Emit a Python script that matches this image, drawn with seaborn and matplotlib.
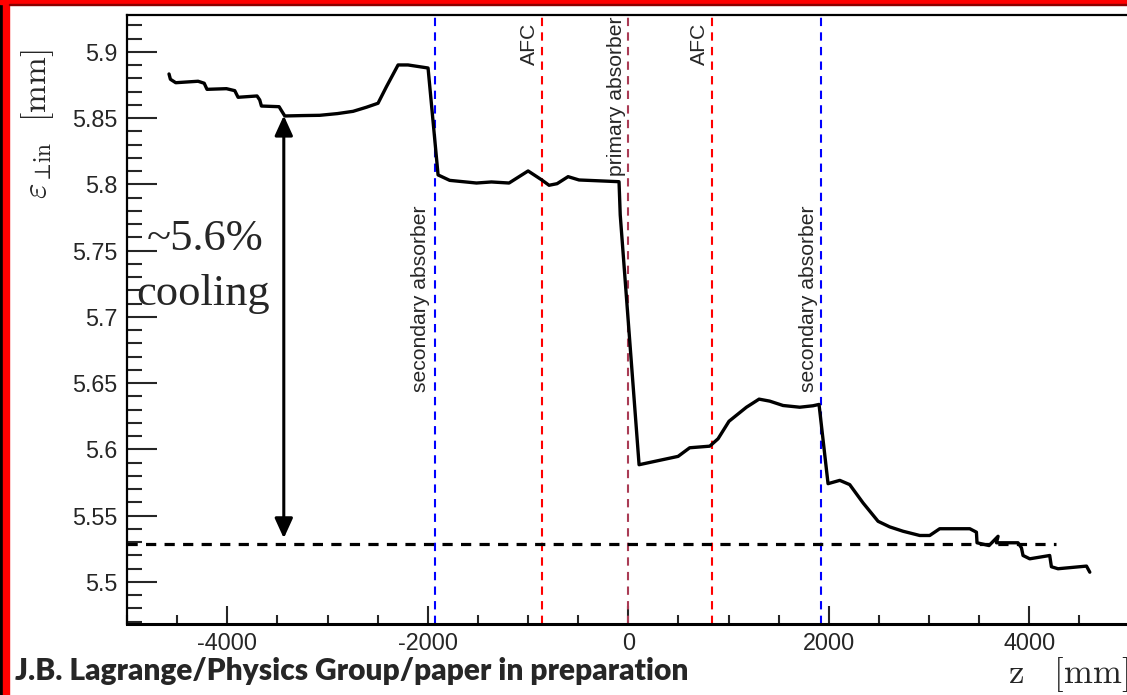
import matplotlib
matplotlib.use("Agg")
import matplotlib.pyplot as plt
from matplotlib.patches import Rectangle
from matplotlib.ticker import MultipleLocator
import seaborn as sns
import pandas as pd

# ---------------- data ----------------
z_mm = [-4581, -4567, -4514, -4291, -4230, -4202, -4008, -3925, -3892, -3703,
        -3676, -3659, -3483, -3459, -3426, -3250, -3077, -2900, -2745, -2611,
        -2496, -2412, -2296, -2197, -1997, -1897, -1781, -1514, -1365, -1189,
        -999, -866, -790, -710, -600, -491, -92, -80, 108, 497,
        613, 813, 896, 1005, 1179, 1305, 1411, 1544, 1711, 1843,
        1903, 1993, 2110, 2209, 2342, 2492, 2608, 2741, 2908, 3007,
        3107, 3407, 3473, 3479, 3599, 3689, 3673, 3888, 3922, 3938,
        4005, 4204, 4221, 4287, 4571, 4604]
emittance = [5.8834, 5.8794, 5.8768, 5.8779, 5.8764, 5.8718, 5.8723, 5.8708, 5.8658, 5.8668,
             5.8638, 5.8592, 5.8587, 5.8557, 5.8517, 5.8520, 5.8522, 5.8535, 5.8552, 5.8583,
             5.8613, 5.8738, 5.8902, 5.8902, 5.8879, 5.8072, 5.8031, 5.8011, 5.8019, 5.8011,
             5.8102, 5.8036, 5.7994, 5.8006, 5.8059, 5.8034, 5.8021, 5.7770, 5.5885, 5.5948,
             5.6013, 5.6025, 5.6081, 5.6213, 5.6319, 5.6380, 5.6365, 5.6332, 5.6319, 5.6330,
             5.6340, 5.5742, 5.5767, 5.5735, 5.5597, 5.5458, 5.5416, 5.5383, 5.5351, 5.5351,
             5.5402, 5.5402, 5.5376, 5.5296, 5.5275, 5.5345, 5.5296, 5.5296, 5.5258, 5.5200,
             5.5175, 5.5200, 5.5115, 5.5100, 5.5120, 5.5074]

element_names = ["secondary absorber", "AFC", "primary absorber", "AFC", "secondary absorber"]
element_z = [-1930, -860, 0, 840, 1923]
element_colors = ["#0000ff", "#ff0000", "#aa3c55", "#ff0000", "#0000ff"]

reference_level = 5.529
reference_z = [-5000, 4270]
arrow_top = 5.852
arrow_bottom = 5.533
arrow_z = -3436

x_ticks = [-4000, -2000, 0, 2000, 4000]
y_ticks = [5.5, 5.55, 5.6, 5.65, 5.7, 5.75, 5.8, 5.85, 5.9]

# ---------------- figure ----------------
sns.set_theme(style="white")
plt.rcParams["font.family"] = ["Liberation Sans", "DejaVu Sans"]
plt.rcParams["mathtext.fontset"] = "cm"

W, H = 1127, 695
fig = plt.figure(figsize=(W / 100, H / 100), dpi=100)
fig.patch.set_facecolor("white")

ax_left, ax_right, ax_top, ax_bottom = 127, 1129.5, 15, 624
ax = fig.add_axes([ax_left / W, 1 - ax_bottom / H, (ax_right - ax_left) / W, (ax_bottom - ax_top) / H])
ax.set_facecolor("white")

df = pd.DataFrame({"z": z_mm, "eps": emittance})
sns.lineplot(data=df, x="z", y="eps", sort=False, estimator=None, color="black",
             linewidth=2.4, ax=ax, zorder=4)

# element markers
for name, zz, col in zip(element_names, element_z, element_colors):
    ax.axvline(zz, color=col, linewidth=1.5, linestyle=(0, (4, 3)), zorder=2)

# labels of the elements (rotated)
ax.text(-1980, 5.7845, element_names[0], rotation=90, ha="right", va="top", fontsize=15.2, zorder=5)
ax.text(1889, 5.7845, element_names[4], rotation=90, ha="right", va="top", fontsize=15.2, zorder=5)
ax.text(-893, 5.8902, element_names[1], rotation=90, ha="right", va="bottom", fontsize=15.2, zorder=5)
ax.text(803, 5.8902, element_names[3], rotation=90, ha="right", va="bottom", fontsize=15.2, zorder=5)
ax.text(-25, 5.8064, element_names[2], rotation=90, ha="right", va="bottom", fontsize=15.2, zorder=5)

# reference dashed level
sns.lineplot(x=reference_z, y=[reference_level, reference_level], color="black",
             linewidth=2.3, linestyle=(0, (3.2, 2.6)), ax=ax, zorder=3)

# double arrow
ax.annotate("", xy=(arrow_z, arrow_top), xytext=(arrow_z, arrow_bottom),
            arrowprops=dict(arrowstyle="<|-|>,head_length=0.55,head_width=0.25", lw=2.2,
                            color="black", mutation_scale=22, shrinkA=0, shrinkB=0), zorder=6)

# cooling annotation
ax.text(-4805, 5.7505, "~5.6%", fontsize=32, family=["Liberation Serif", "DejaVu Serif"],
        ha="left", va="baseline", zorder=5)
ax.text(-4905, 5.709, "cooling", fontsize=32, family=["Liberation Serif", "DejaVu Serif"],
        ha="left", va="baseline", zorder=5)

# axes scales
ax.set_xlim(-5000, 5000)
ax.set_ylim(5.4683, 5.9279)
ax.set_xticks(x_ticks)
ax.set_xticklabels([str(t) for t in x_ticks])
ax.set_yticks(y_ticks)
ax.set_yticklabels([f"{t:g}" for t in y_ticks])
ax.xaxis.set_minor_locator(MultipleLocator(500))
ax.yaxis.set_minor_locator(MultipleLocator(0.01))
ax.tick_params(axis="y", which="major", direction="in", length=21.6, width=1.5, pad=7,
               labelsize=16.8, left=True, right=False)
ax.tick_params(axis="y", which="minor", direction="in", length=10.8, width=1.5, left=True, right=False)
ax.tick_params(axis="x", which="major", direction="in", length=13, width=1.5, pad=6,
               labelsize=16.8, bottom=True, top=False)
ax.tick_params(axis="x", which="minor", direction="in", length=6.5, width=1.5, bottom=True, top=False)
ax.set_xlabel("")
ax.set_ylabel("")
for s in ["left", "top", "bottom", "right"]:
    ax.spines[s].set_color("black")
ax.spines["left"].set_linewidth(1.6)
ax.spines["top"].set_linewidth(1.6)
ax.spines["bottom"].set_linewidth(2.2)
ax.grid(False)

# axis titles (ROOT style placement)
fig.text(38 / W, 1 - 124 / H, r"$\varepsilon_{\perp\!\mathrm{in}}\ \ [\mathrm{mm}]$",
         rotation=90, ha="center", va="center", fontsize=24)
fig.text(1129 / W, 1 - 675 / H, r"$\mathrm{z}\quad[\mathrm{mm}]$",
         ha="right", va="center", fontsize=25)

# footer
fig.text(15 / W, 1 - 680 / H, "J.B. Lagrange/Physics Group/paper in preparation",
         ha="left", va="baseline", fontsize=21.5, fontweight="heavy", family=["Lato", "DejaVu Sans"])

# slide frame
fig.patches.append(Rectangle((0, 0), 3.3 / W, 1, transform=fig.transFigure, color="black", zorder=10))
fig.patches.append(Rectangle((3.3 / W, 0), 6 / W, 1, transform=fig.transFigure, color="#ff0000", zorder=10))
fig.patches.append(Rectangle((0, 1 - 4 / H), 1, 4 / H, transform=fig.transFigure, color="#ff0000", zorder=10))
fig.patches.append(Rectangle((9.3 / W, 1 - 5 / H), 1, 1 / H, transform=fig.transFigure, color="#8b0000", zorder=10))

fig.savefig("out.png", dpi=100)
